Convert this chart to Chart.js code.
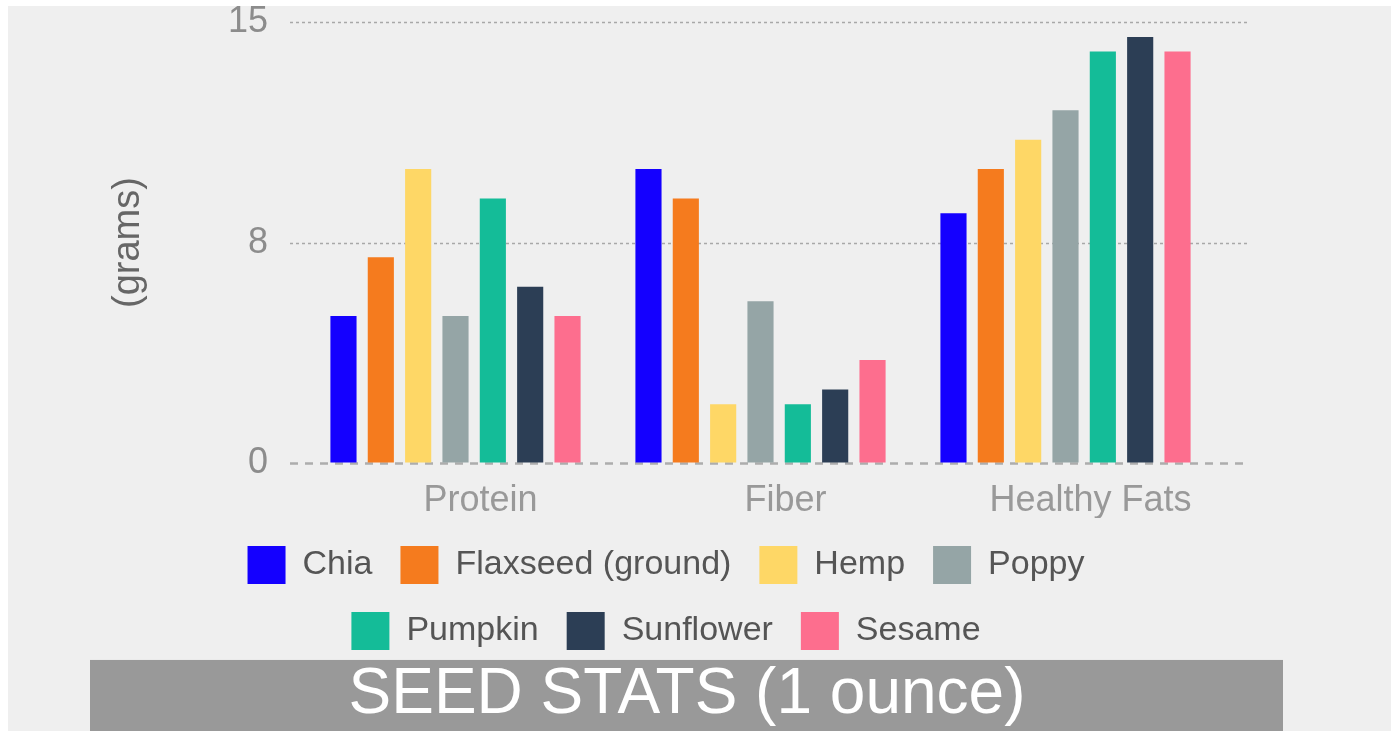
<!DOCTYPE html>
<html>
<head>
<meta charset="utf-8">
<script src="https://cdn.jsdelivr.net/npm/chart.js@4/dist/chart.umd.min.js"></script>
<style>
  html, body { margin: 0; padding: 0; background: #ffffff; overflow: hidden; }
  #wrap { position: absolute; left: 8px; top: 6px; width: 1383px; height: 725px; background: #efefef; }
</style>
</head>
<body>
<div id="wrap"><canvas id="chart1"></canvas></div>
<script>
const nutrients = ['Protein', 'Fiber', 'Healthy Fats'];
const seeds = ['Chia', 'Flaxseed (ground)', 'Hemp', 'Poppy', 'Pumpkin', 'Sunflower', 'Sesame'];
const chia = [5, 10, 8.5];
const flaxseed = [7, 9, 10];
const hemp = [10, 2, 11];
const poppy = [5, 5.5, 12];
const pumpkin = [9, 2, 14];
const sunflower = [6, 2.5, 14.5];
const sesame = [5, 3.5, 14];
const yTicks = [0, 7.5, 15];

const seedValues = [chia, flaxseed, hemp, poppy, pumpkin, sunflower, sesame];
const seedColors = ['#1400ff', '#f57b1e', '#fed766', '#95a5a6', '#14bc98', '#2c3e55', '#fd6e8e'];

const fontName = '"Liberation Sans", Arial, sans-serif';
const legendWrapWidth = 980;

// grey band behind the title, title text nudged right like the original
const titleBand = {
    id: 'titleBand',
    afterLayout(chart) {
        const t = chart.titleBlock;
        t.left += 21;
        t.right += 21;
    },
    beforeDraw(chart) {
        const t = chart.titleBlock;
        const ctx = chart.ctx;
        ctx.save();
        ctx.fillStyle = '#999999';
        ctx.fillRect(82, t.top, 1193, t.height + 20);
        ctx.restore();
    }
};

// legend wraps after 4 items like the original
const legendWrap = {
    id: 'legendWrap',
    beforeLayout(chart) {
        const lg = chart.legend;
        if (lg && !lg._wrapPatched) {
            const origFit = lg.fit;
            lg.fit = function () {
                this.maxWidth = Math.min(this.maxWidth, legendWrapWidth);
                origFit.call(this);
            };
            lg._wrapPatched = true;
        }
    }
};

// dashed grid lines, a bit wider than the plot, the zero line coarser
const dashedGrid = {
    id: 'dashedGrid',
    beforeDatasetsDraw(chart) {
        const y = chart.scales.y;
        const area = chart.chartArea;
        const ctx = chart.ctx;
        ctx.save();
        y.ticks.forEach(t => {
            const py = Math.round(y.getPixelForValue(t.value)) + 0.5;
            if (t.value === 0) {
                ctx.strokeStyle = '#adadad';
                ctx.lineWidth = 2.5;
                ctx.setLineDash([8, 7]);
            } else {
                ctx.strokeStyle = '#a8a8a8';
                ctx.lineWidth = 1.5;
                ctx.setLineDash([3, 3]);
            }
            ctx.beginPath();
            ctx.moveTo(area.left - 13, py);
            ctx.lineTo(area.right + 32, py);
            ctx.stroke();
        });
        ctx.restore();
    }
};

const datasets = seeds.map((name, i) => ({
    label: name,
    data: seedValues[i],
    backgroundColor: seedColors[i],
    borderWidth: 0,
    categoryPercentage: 0.857,
    barPercentage: 0.7
}));

const ctx1 = document.getElementById('chart1').getContext('2d');
window.bar1 = new Chart(ctx1, {
    type: 'bar',
    data: { labels: nutrients, datasets: datasets },
    options: {
        responsive: true,
        maintainAspectRatio: false,
        animation: false,
        layout: { padding: { left: 60, right: 127, top: 0, bottom: 0 } },
        plugins: {
            tooltip: { enabled: false },
            legend: {
                position: 'bottom',
                labels: {
                    boxWidth: 38,
                    boxHeight: 38,
                    padding: 28,
                    color: '#555555',
                    font: { family: fontName, size: 34 }
                }
            },
            title: {
                display: true,
                text: 'SEED STATS (1 ounce)',
                position: 'bottom',
                color: '#ffffff',
                padding: { top: 0, bottom: 0 },
                font: { family: fontName, size: 64, weight: 'normal', lineHeight: 1.11 }
            }
        },
        scales: {
            x: {
                grid: { display: false },
                border: { display: false },
                ticks: {
                    color: '#999999',
                    padding: 9,
                    labelOffset: 25,
                    font: { family: fontName, size: 36 }
                },
                afterFit: s => { s.height = 55; }
            },
            y: {
                min: 0,
                max: 15,
                afterBuildTicks: s => { s.ticks = yTicks.map(v => ({ value: v })); },
                grid: { display: true, color: 'rgba(0,0,0,0)', drawTicks: true, tickLength: 35 },
                border: { display: false },
                ticks: {
                    color: '#8c8c8c',
                    padding: 0,
                    font: { family: fontName, size: 36, lineHeight: 0.9 },
                    callback: v => Math.round(v)
                },
                title: {
                    display: true,
                    text: '(grams)',
                    color: '#666666',
                    padding: { top: 38, bottom: 0 },
                    font: { family: fontName, size: 38 }
                },
                afterFit: s => { s.width = 235; }
            },
            y2: {
                position: 'right',
                display: true,
                grid: { display: false },
                border: { display: false },
                ticks: { display: false },
                afterFit: s => { s.width = 46; }
            }
        }
    },
    plugins: [titleBand, legendWrap, dashedGrid]
});
</script>
</body>
</html>
